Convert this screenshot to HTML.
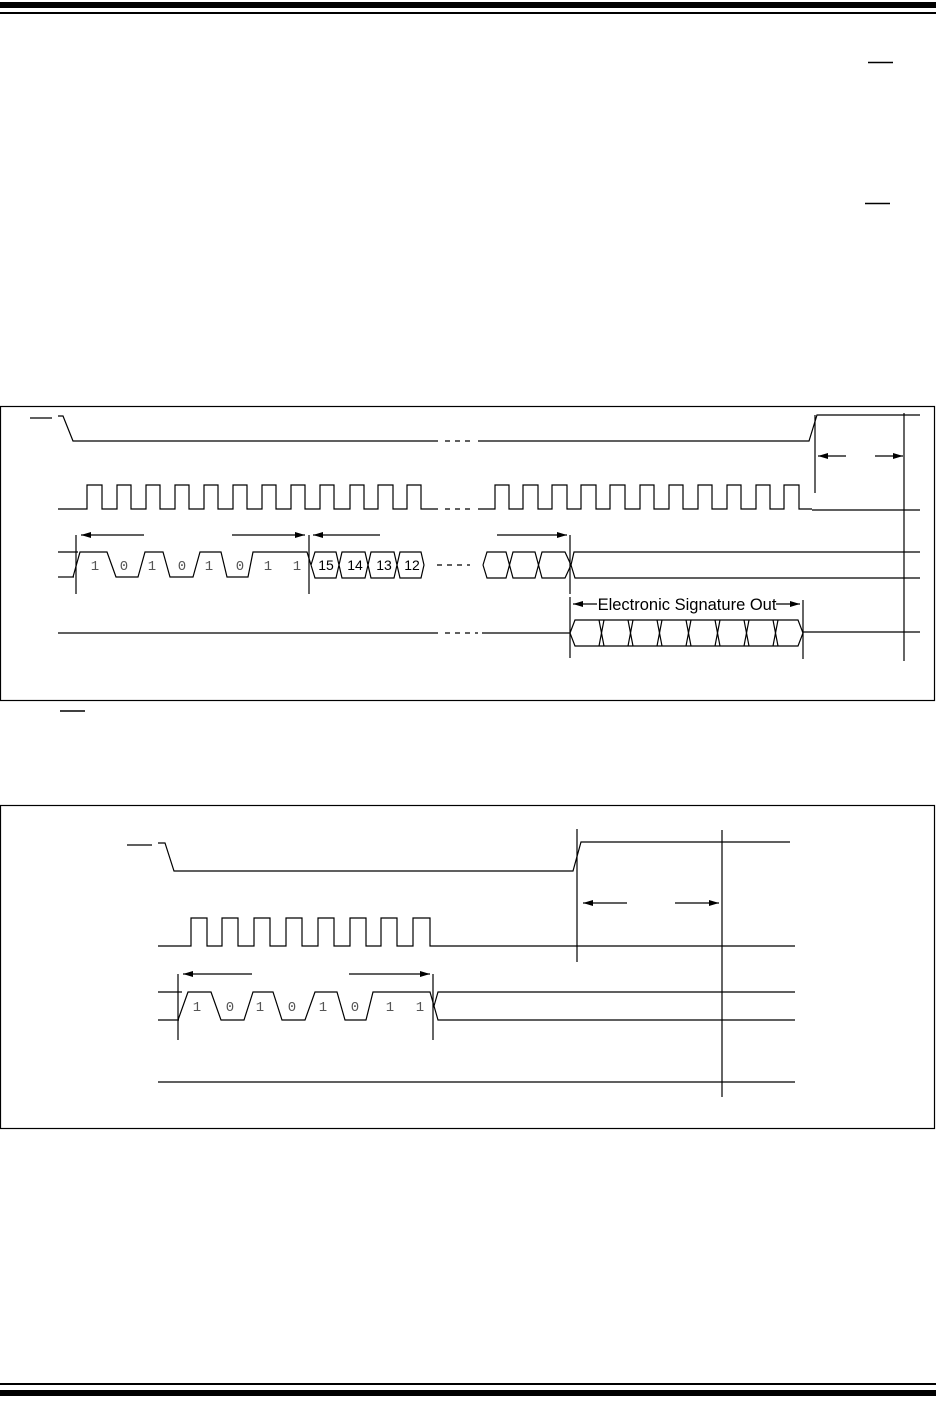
<!DOCTYPE html>
<html><head><meta charset="utf-8"><style>
html,body{margin:0;padding:0;background:#fff;}
svg{display:block;}
</style></head><body>
<svg width="936" height="1412" viewBox="0 0 936 1412" xmlns="http://www.w3.org/2000/svg">
<defs>
<marker id="ah" markerWidth="10" markerHeight="6" refX="10" refY="3" orient="auto" markerUnits="userSpaceOnUse"><path d="M0,0 L10,3 L0,6 z" fill="#000"/></marker>
</defs>
<rect x="0" y="2" width="936" height="6" fill="#000"/>
<rect x="0" y="12" width="936" height="2" fill="#000"/>
<rect x="0" y="1383" width="936" height="2" fill="#000"/>
<rect x="0" y="1390" width="936" height="6" fill="#000"/>
<g stroke="#000" stroke-width="1.5">
<line x1="868" y1="62.5" x2="893" y2="62.5"/>
<line x1="865" y1="203.5" x2="890" y2="203.5"/>
<line x1="60" y1="711" x2="85" y2="711"/>
</g>
<g fill="none" stroke="#000" stroke-width="1.2">
<rect x="0.5" y="406.5" width="934" height="294"/>
<rect x="0.5" y="805.5" width="934" height="323"/>

<line x1="30" y1="418" x2="52" y2="418"/>
<polyline points="58,416 63,416 73,441 438,441"/>
<line x1="445" y1="441" x2="470" y2="441" stroke-dasharray="5,5"/>
<polyline points="478,441 809,441 817,415 920,415"/>
<line x1="815" y1="415" x2="815" y2="493"/>
<line x1="904" y1="413" x2="904" y2="661"/>
<line x1="846" y1="456" x2="818" y2="456" marker-end="url(#ah)"/>
<line x1="875" y1="456" x2="903" y2="456" marker-end="url(#ah)"/>

<polyline points="58,509 87,509 87,485 102,485 102,509 117,509 117,485 131,485 131,509 146,509 146,485 160,485 160,509 175,509 175,485 189,485 189,509 204,509 204,485 218,485 218,509 233,509 233,485 247,485 247,509 262,509 262,485 276,485 276,509 291,509 291,485 305,485 305,509 320,509 320,485 334,485 334,509 350,509 350,485 364,485 364,509 378,509 378,485 393,485 393,509 407,509 407,485 421,485 421,509 438,509"/>
<line x1="445" y1="509" x2="470" y2="509" stroke-dasharray="5,5"/>
<polyline points="478,509 495,509 495,485 509,485 509,509 523,509 523,485 538,485 538,509 552,509 552,485 567,485 567,509 581,509 581,485 596,485 596,509 610,509 610,485 625,485 625,509 640,509 640,485 654,485 654,509 669,509 669,485 683,485 683,509 698,509 698,485 712,485 712,509 727,509 727,485 741,485 741,509 756,509 756,485 770,485 770,509 784,509 784,485 799,485 799,509 812,509"/>
<line x1="812" y1="510" x2="920" y2="510"/>

<line x1="58" y1="552" x2="78" y2="552"/>
<line x1="58" y1="577" x2="74" y2="577"/>
<polyline points="73,577 80,552 107,552 116,577 138,577 145,552 163,552 170,577 193,577 200,552 221,552 227,577 248,577 253,552 307,552 311,565"/>
<polyline points="311,565 315,552 336,552 342,578 365,578 371,552 394,552 400,578 421,578 424,565 421,552 400,552 394,578 371,578 365,552 342,552 336,578 315,578 311,565"/>
<line x1="437" y1="565" x2="470" y2="565" stroke-dasharray="5,5"/>
<polyline points="483,565 487,552 506,552 513,578 535,578 542,552 565,552 571,565 574,552 920,552"/>
<polyline points="571,565 565,578 542,578 535,552 513,552 506,578 487,578 483,565"/>
<polyline points="571,565 575,578 920,578"/>
<line x1="76" y1="535" x2="76" y2="594"/>
<line x1="309" y1="535" x2="309" y2="594"/>
<line x1="570" y1="535" x2="570" y2="594"/>
<line x1="144" y1="535" x2="81" y2="535" marker-end="url(#ah)"/>
<line x1="232" y1="535" x2="305" y2="535" marker-end="url(#ah)"/>
<line x1="380" y1="535" x2="313" y2="535" marker-end="url(#ah)"/>
<line x1="497" y1="535" x2="567" y2="535" marker-end="url(#ah)"/>

<line x1="58" y1="633" x2="438" y2="633"/>
<line x1="445" y1="633" x2="478" y2="633" stroke-dasharray="5,5"/>
<line x1="482" y1="633" x2="570" y2="633"/>
<polyline points="570,633 575,620 798,620 803,633 798,646 575,646 570,633"/>
<g>
<line x1="599" y1="620" x2="604" y2="646"/><line x1="604" y1="620" x2="599" y2="646"/>
<line x1="628" y1="620" x2="633" y2="646"/><line x1="633" y1="620" x2="628" y2="646"/>
<line x1="657" y1="620" x2="662" y2="646"/><line x1="662" y1="620" x2="657" y2="646"/>
<line x1="686" y1="620" x2="691" y2="646"/><line x1="691" y1="620" x2="686" y2="646"/>
<line x1="715" y1="620" x2="720" y2="646"/><line x1="720" y1="620" x2="715" y2="646"/>
<line x1="744" y1="620" x2="749" y2="646"/><line x1="749" y1="620" x2="744" y2="646"/>
<line x1="773" y1="620" x2="778" y2="646"/><line x1="778" y1="620" x2="773" y2="646"/>
</g>
<line x1="803" y1="632" x2="920" y2="632"/>
<line x1="570" y1="597" x2="570" y2="658"/>
<line x1="803" y1="600" x2="803" y2="659"/>
<line x1="597" y1="604" x2="573" y2="604" marker-end="url(#ah)"/>
<line x1="776" y1="604" x2="800" y2="604" marker-end="url(#ah)"/>

<line x1="127" y1="845" x2="152" y2="845"/>
<polyline points="158,843 165,843 174,871 573,871 581,842 790,842"/>
<line x1="577" y1="829" x2="577" y2="962"/>
<line x1="722" y1="830" x2="722" y2="1097"/>
<line x1="627" y1="903" x2="583" y2="903" marker-end="url(#ah)"/>
<line x1="675" y1="903" x2="719" y2="903" marker-end="url(#ah)"/>
<polyline points="158,946 191,946 191,918 207,918 207,946 222,946 222,918 238,918 238,946 254,946 254,918 270,918 270,946 286,946 286,918 302,918 302,946 318,946 318,918 334,918 334,946 350,946 350,918 366,918 366,946 381,946 381,918 397,918 397,946 413,946 413,918 430,918 430,946 795,946"/>
<line x1="158" y1="992" x2="182" y2="992"/>
<line x1="158" y1="1020" x2="179" y2="1020"/>
<polyline points="178,1020 188,992 211,992 221,1020 244,1020 253,992 273,992 282,1020 305,1020 315,992 337,992 345,1020 366,1020 373,992 430,992 434,1006 438,992 795,992"/>
<polyline points="434,1006 438,1020 795,1020"/>
<line x1="178" y1="974" x2="178" y2="1040"/>
<line x1="433" y1="974" x2="433" y2="1040"/>
<line x1="252" y1="974" x2="183" y2="974" marker-end="url(#ah)"/>
<line x1="349" y1="974" x2="430" y2="974" marker-end="url(#ah)"/>
<line x1="158" y1="1082" x2="795" y2="1082"/>
</g>

<g font-family="Liberation Mono, monospace" font-size="14" fill="#555" text-anchor="middle">
<text x="95" y="570">1</text><text x="124" y="570">0</text><text x="152" y="570">1</text><text x="182" y="570">0</text>
<text x="209" y="570">1</text><text x="240" y="570">0</text><text x="268" y="570">1</text><text x="297" y="570">1</text>
<text x="197" y="1011">1</text><text x="230" y="1011">0</text><text x="260" y="1011">1</text><text x="292" y="1011">0</text>
<text x="323" y="1011">1</text><text x="355" y="1011">0</text><text x="390" y="1011">1</text><text x="420" y="1011">1</text>
</g>
<g font-family="Liberation Sans, sans-serif" font-size="14" fill="#000" text-anchor="middle">
<text x="326" y="570">15</text><text x="355" y="570">14</text><text x="384" y="570">13</text><text x="412" y="570">12</text>
<text x="687" y="610" font-size="16.5">Electronic Signature Out</text>
</g>
</svg>
</body></html>
